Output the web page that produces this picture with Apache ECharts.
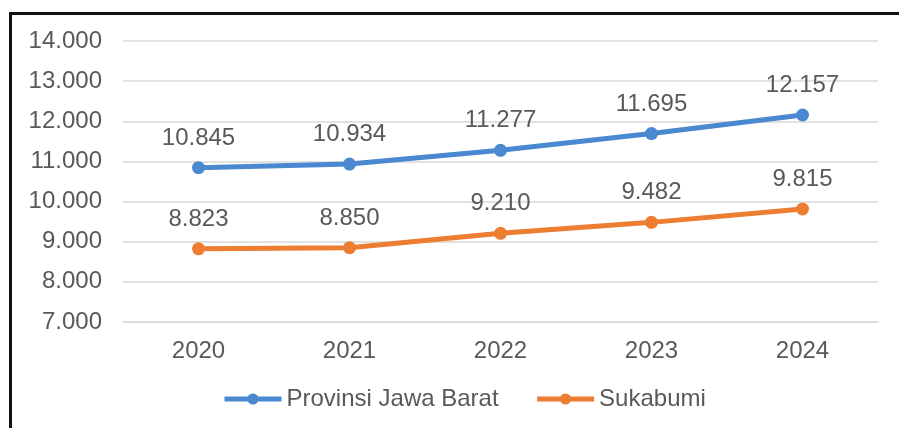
<!DOCTYPE html>
<html>
<head>
    <meta charset="utf-8">
    <title>Provinsi Jawa Barat - Sukabumi</title>
    <script src="https://cdn.jsdelivr.net/npm/echarts@6/dist/echarts.min.js"></script>
    <style>
        html, body { margin: 0; padding: 0; width: 899px; height: 428px; overflow: hidden; background: #fff; }
        #frame { position: absolute; left: 9px; top: 12px; width: 950px; height: 500px;
                 border-left: 3px solid #111; border-top: 3px solid #111; }
        #main { position: absolute; left: 0; top: 0; width: 899px; height: 428px; }
    </style>
</head>
<body>
<div id="frame"></div>
<div id="main"></div>
<script>
    // data
    var years = ['2020', '2021', '2022', '2023', '2024'];
    var jawaBarat = [10845, 10934, 11277, 11695, 12157];
    var sukabumi = [8823, 8850, 9210, 9482, 9815];
    var seriesNames = ['Provinsi Jawa Barat', 'Sukabumi'];

    // angka format indonesia, 10845 -> 10.845
    function fmt(v) {
        return String(v).replace(/\B(?=(\d{3})+(?!\d))/g, '.');
    }

    var textColor = '#595959';
    var fontFamily = 'Liberation Sans, Arial, sans-serif';
    var fs = 24;

    var myChart = echarts.init(document.getElementById('main'));

    function lineSeries(name, data, color) {
        return {
            name: name,
            type: 'line',
            data: data,
            symbol: 'circle',
            symbolSize: 13,
            lineStyle: { width: 5, color: color },
            itemStyle: { color: color },
            label: {
                show: true,
                position: 'top',
                distance: 11,
                color: textColor,
                fontSize: fs,
                fontFamily: fontFamily,
                formatter: function (p) { return fmt(p.value); }
            },
            emphasis: { disabled: true }
        };
    }

    var option = {
        animation: false,
        grid: { left: 123, right: 21, top: 41, bottom: 106 },
        legend: {
            data: seriesNames,
            bottom: 12,
            left: 217,
            itemWidth: 57,
            itemHeight: 14,
            itemGap: 36,
            lineStyle: { width: 5 },
            textStyle: { color: textColor, fontSize: fs, fontFamily: fontFamily }
        },
        xAxis: {
            type: 'category',
            data: years,
            boundaryGap: true,
            axisLine: { show: true, lineStyle: { color: '#d9d9d9', width: 1.5 } },
            axisTick: { show: false },
            axisLabel: { color: textColor, fontSize: fs, fontFamily: fontFamily, margin: 17 }
        },
        yAxis: {
            type: 'value',
            min: 7000,
            max: 14000,
            interval: 1000,
            axisLine: { show: false },
            axisTick: { show: false },
            splitLine: { lineStyle: { color: '#d9d9d9', width: 1.5 } },
            axisLabel: { color: textColor, fontSize: fs, fontFamily: fontFamily, margin: 21, formatter: fmt }
        },
        series: [
            lineSeries(seriesNames[0], jawaBarat, '#4a88cf'),
            lineSeries(seriesNames[1], sukabumi, '#ed7d31')
        ]
    };
    myChart.setOption(option);
</script>
</body>
</html>
